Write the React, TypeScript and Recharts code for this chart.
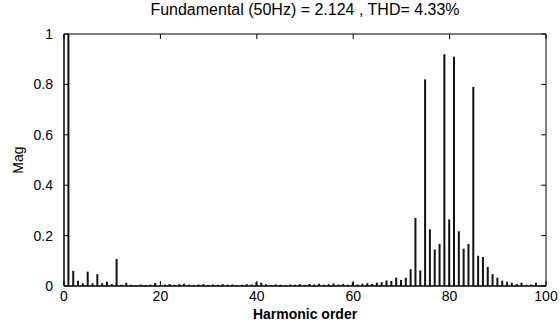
import { Bar, BarChart, ReferenceArea, ReferenceLine, XAxis, YAxis } from "recharts";

const chartTitle = "Fundamental (50Hz) = 2.124 , THD= 4.33%";
const xTicks = [0, 20, 40, 60, 80, 100];
const yTicks = [0, 0.2, 0.4, 0.6, 0.8, 1];

// harmonic magnitudes, relative to the fundamental, orders 0..100
const mag0to19 = [0, 1.0, 0.06, 0.021, 0.011, 0.057, 0.011, 0.047, 0.011, 0.017, 0.008, 0.107, 0.005, 0.013, 0.005, 0.004, 0.006, 0.003, 0.005, 0.012];
const mag20to39 = [0.004, 0.006, 0.008, 0.005, 0.007, 0.009, 0.005, 0.004, 0.006, 0.007, 0.004, 0.006, 0.005, 0.007, 0.005, 0.006, 0.004, 0.005, 0.007, 0.006];
const mag40to59 = [0.015, 0.013, 0.007, 0.004, 0.006, 0.005, 0.004, 0.006, 0.005, 0.007, 0.004, 0.008, 0.006, 0.009, 0.005, 0.007, 0.01, 0.006, 0.008, 0.005];
const mag60to79 = [0.015, 0.006, 0.009, 0.011, 0.008, 0.013, 0.015, 0.022, 0.02, 0.033, 0.024, 0.033, 0.067, 0.27, 0.062, 0.82, 0.225, 0.145, 0.167, 0.92];
const mag80to100 = [0.264, 0.91, 0.217, 0.148, 0.167, 0.79, 0.12, 0.115, 0.076, 0.047, 0.033, 0.021, 0.017, 0.013, 0.008, 0.013, 0.005, 0.006, 0.013, 0.004, 0];

const magnitudes = [...mag0to19, ...mag20to39, ...mag40to59, ...mag60to79, ...mag80to100];
const data = magnitudes.map((mag, order) => ({ order, mag }));

const font = "'Liberation Sans', Arial, sans-serif";
const tickStyle = { fontSize: 14, fill: "#000", fontFamily: font };

// inside tick marks, MATLAB style (lengths in data units)
const xTickLen = 0.02;
const yTickLen = 1;

export default function App() {
  return (
    <div style={{ position: "absolute", left: 0, top: 0, width: 560, height: 325, background: "#fff", fontFamily: font }}>
      <div
        style={{
          position: "absolute",
          left: 64,
          width: 482,
          top: 1,
          textAlign: "center",
          fontSize: 16,
          color: "#000",
        }}
      >
        {chartTitle}
      </div>
      <BarChart
        width={560}
        height={325}
        data={data}
        margin={{ top: 34, right: 14, bottom: 0, left: 0 }}
      >
        <XAxis
          dataKey="order"
          type="number"
          domain={[0, 100]}
          ticks={xTicks}
          interval={0}
          stroke="#000"
          tick={tickStyle}
          tickLine={false}
          tickSize={0}
          tickMargin={5}
          height={39}
          label={{
            value: "Harmonic order",
            position: "insideBottom",
            offset: 6,
            style: { fontSize: 14, fontWeight: "bold", fill: "#000", fontFamily: font },
          }}
        />
        <YAxis
          type="number"
          domain={[0, 1]}
          ticks={yTicks}
          interval={0}
          stroke="#000"
          tick={tickStyle}
          tickLine={false}
          tickSize={0}
          tickMargin={11}
          width={64}
          label={{
            value: "Mag",
            angle: -90,
            position: "insideLeft",
            offset: 18,
            style: { fontSize: 14, fill: "#000", textAnchor: "middle", fontFamily: font },
          }}
        />
        <ReferenceArea x1={0} x2={100} y1={0} y2={1} fill="none" stroke="#000" strokeWidth={1} ifOverflow="visible" />
        {xTicks.map((t) => (
          <ReferenceLine key={`xb${t}`} segment={[{ x: t, y: 0 }, { x: t, y: xTickLen }]} stroke="#000" ifOverflow="visible" />
        ))}
        {xTicks.map((t) => (
          <ReferenceLine key={`xt${t}`} segment={[{ x: t, y: 1 }, { x: t, y: 1 - xTickLen }]} stroke="#000" ifOverflow="visible" />
        ))}
        {yTicks.map((t) => (
          <ReferenceLine key={`yl${t}`} segment={[{ x: 0, y: t }, { x: yTickLen, y: t }]} stroke="#000" ifOverflow="visible" />
        ))}
        {yTicks.map((t) => (
          <ReferenceLine key={`yr${t}`} segment={[{ x: 100, y: t }, { x: 100 - yTickLen, y: t }]} stroke="#000" ifOverflow="visible" />
        ))}
        <Bar dataKey="mag" fill="#111" barSize={2} isAnimationActive={false} />
      </BarChart>
    </div>
  );
}
